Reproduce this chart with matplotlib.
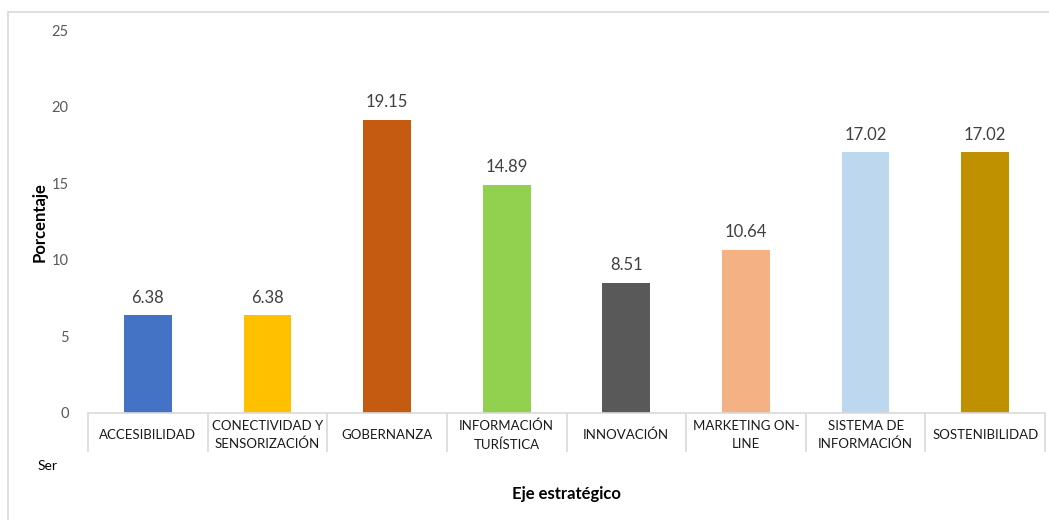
import matplotlib
matplotlib.use("Agg")
import matplotlib.pyplot as plt
from matplotlib.patches import Rectangle
import numpy as np

plt.rcParams['font.family'] = ['Lato', 'DejaVu Sans']

ejes = ['ACCESIBILIDAD', 'CONECTIVIDAD Y\nSENSORIZACIÓN', 'GOBERNANZA',
        'INFORMACIÓN\nTURÍSTICA', 'INNOVACIÓN', 'MARKETING ON-\nLINE',
        'SISTEMA DE\nINFORMACIÓN', 'SOSTENIBILIDAD']
porcentaje = [6.38, 6.38, 19.15, 14.89, 8.51, 10.64, 17.02, 17.02]
colores = ['#4472C4', '#FFC000', '#C55A11', '#92D050', '#595959',
           '#F4B183', '#BDD7EE', '#BF9000']
yticks = [0, 5, 10, 15, 20, 25]

W, H = 1049, 520
fig = plt.figure(figsize=(W / 100, H / 100), dpi=100)

# marco gris del grafico
fig.patches.append(Rectangle((8 / W, -0.2), 1.2, 1.2 - 12 / H,
                             transform=fig.transFigure, fill=False,
                             edgecolor='#d9d9d9', linewidth=1.2))

ax = fig.add_axes([88 / W, (H - 413) / H, (1045 - 88) / W, (413 - 30) / H])
x = np.arange(len(ejes))
bars = ax.bar(x, porcentaje, width=0.4, color=colores)

for b, v in zip(bars, porcentaje):
    ax.annotate(f'{v:.2f}', (b.get_x() + b.get_width() / 2, v),
                xytext=(0, 7), textcoords='offset points',
                ha='center', va='bottom', fontsize=12, color='#404040')

ax.set_xlim(-0.5, len(ejes) - 0.5)
ax.set_ylim(0, 25)
ax.set_yticks(yticks)
ax.set_yticklabels([str(t) for t in yticks], color='#595959', fontsize=10.5)
ax.tick_params(axis='y', length=0, pad=14)

ax.set_xticks(x)
ax.set_xticklabels(ejes, fontsize=9.5, color='#1a1a1a', linespacing=1.55)
for lbl in ax.get_xticklabels():
    lbl.set_va('center')
ax.set_xticks(np.arange(len(ejes) + 1) - 0.5, minor=True)
ax.tick_params(axis='x', which='major', length=0, pad=16)
ax.tick_params(axis='x', which='minor', length=28, color='#d9d9d9', width=1.2)

for s in ['top', 'right', 'left']:
    ax.spines[s].set_visible(False)
ax.spines['bottom'].set_color('#d9d9d9')
ax.spines['bottom'].set_linewidth(1.2)

fig.text(40 / W, 1 - 222 / H, 'Porcentaje', rotation=90, ha='center',
         va='center', fontsize=12, fontweight='bold')
fig.text(566 / W, 1 - 494 / H, 'Eje estratégico', ha='center',
         va='center', fontsize=12, fontweight='bold')
fig.text(38 / W, 1 - 466 / H, 'Ser', ha='left', va='center', fontsize=10)

fig.savefig('out.png', dpi=100)
